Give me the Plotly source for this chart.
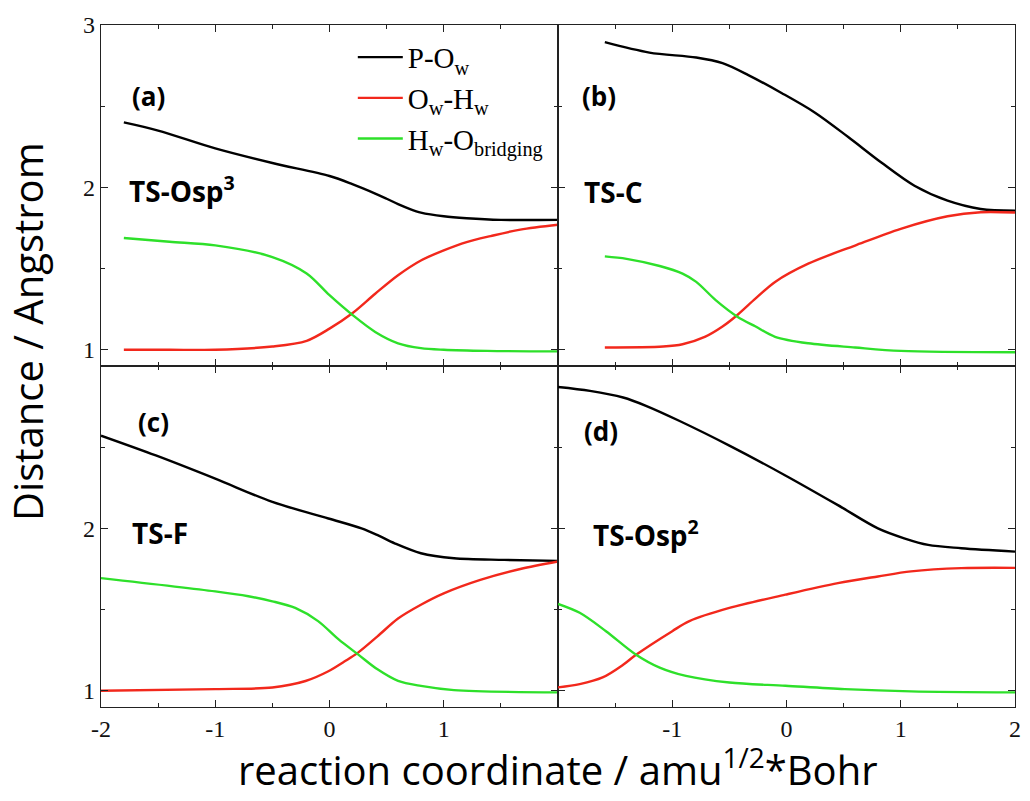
import plotly.graph_objects as go

# ---- data: distances (Angstrom) along the reaction coordinate ----
# panel (a) TS-Osp3
a_po_x = [-1.8, -1.5, -1.0, -0.5, 0.0, 0.2, 0.4, 0.5, 0.6, 0.7, 0.8, 1.0, 1.2, 1.5, 2.0]
a_po_y = [2.40, 2.35, 2.24, 2.15, 2.07, 2.02, 1.962, 1.93, 1.897, 1.868, 1.845, 1.822, 1.81, 1.80, 1.80]
a_oh_x = [-1.8, -1.4, -1.0, -0.5, -0.2, 0.0, 0.2, 0.4, 0.6, 0.8, 1.0, 1.2, 1.41, 1.67, 2.0]
a_oh_y = [1.00, 1.00, 1.00, 1.02, 1.055, 1.13, 1.225, 1.345, 1.459, 1.55, 1.612, 1.663, 1.70, 1.74, 1.77]
a_hb_x = [-1.8, -1.4, -1.0, -0.5, -0.2, 0.0, 0.2, 0.4, 0.6, 0.8, 1.0, 1.38, 2.0]
a_hb_y = [1.688, 1.665, 1.643, 1.571, 1.47, 1.336, 1.215, 1.11, 1.04, 1.01, 1.00, 0.993, 0.99]

# panel (b) TS-C
b_po_x = [-1.59, -1.2, -0.79, -0.56, -0.33, -0.04, 0.25, 0.54, 0.83, 1.12, 1.41, 1.70, 2.0]
b_po_y = [2.894, 2.83, 2.80, 2.765, 2.69, 2.58, 2.46, 2.31, 2.153, 2.01, 1.918, 1.867, 1.857]
b_oh_x = [-1.59, -1.08, -0.91, -0.71, -0.56, -0.43, -0.27, -0.10, 0.19, 0.60, 1.0, 1.41, 1.70, 2.0]
b_oh_y = [1.014, 1.02, 1.034, 1.081, 1.143, 1.214, 1.316, 1.418, 1.53, 1.642, 1.745, 1.822, 1.847, 1.845]
b_hb_x = [-1.59, -1.40, -1.11, -0.91, -0.79, -0.62, -0.43, -0.27, -0.10, 0.19, 0.60, 1.0, 2.0]
b_hb_y = [1.575, 1.56, 1.516, 1.469, 1.418, 1.306, 1.204, 1.143, 1.08, 1.04, 1.014, 0.993, 0.985]

# panel (c) TS-F
c_po_x = [-2.0, -1.52, -1.0, -0.5, -0.01, 0.28, 0.43, 0.57, 0.80, 1.09, 1.53, 2.0]
c_po_y = [2.571, 2.449, 2.306, 2.163, 2.061, 2.0, 1.955, 1.908, 1.847, 1.816, 1.806, 1.80]
c_oh_x = [-2.0, -1.0, -0.5, -0.21, -0.01, 0.13, 0.25, 0.42, 0.60, 0.80, 1.0, 1.32, 1.67, 2.0]
c_oh_y = [1.00, 1.01, 1.02, 1.06, 1.12, 1.18, 1.235, 1.335, 1.445, 1.53, 1.60, 1.683, 1.75, 1.796]
c_hb_x = [-2.0, -1.0, -0.71, -0.5, -0.3, -0.1, 0.08, 0.25, 0.42, 0.60, 0.80, 1.09, 2.0]
c_hb_y = [1.694, 1.612, 1.582, 1.551, 1.51, 1.429, 1.316, 1.224, 1.132, 1.061, 1.03, 1.004, 0.99]

# panel (d) TS-Osp2
d_po_x = [-2.0, -1.72, -1.43, -1.23, -0.94, -0.5, -0.01, 0.45, 0.80, 1.03, 1.24, 1.53, 2.0]
d_po_y = [2.871, 2.847, 2.806, 2.755, 2.663, 2.51, 2.326, 2.143, 2.0, 1.939, 1.898, 1.878, 1.857]
d_oh_x = [-2.0, -1.81, -1.61, -1.43, -1.32, -1.0, -0.85, -0.5, -0.01, 0.45, 0.80, 1.09, 1.53, 2.0]
d_oh_y = [1.021, 1.041, 1.082, 1.16, 1.22, 1.367, 1.429, 1.51, 1.592, 1.663, 1.704, 1.735, 1.755, 1.757]
d_hb_x = [-2.0, -1.81, -1.58, -1.32, -1.11, -0.88, -0.5, -0.01, 0.51, 1.09, 2.0]
d_hb_y = [1.535, 1.48, 1.367, 1.224, 1.143, 1.092, 1.051, 1.031, 1.01, 0.996, 0.99]

series_names = ["P-O<sub>w</sub>", "O<sub>w</sub>-H<sub>w</sub>", "H<sub>w</sub>-O<sub>bridging</sub>"]
series_colors = ["#000000", "#f2281c", "#2ee02a"]
panel_tags = ["(a)", "(b)", "(c)", "(d)"]
panel_names = ["TS-Osp<sup>3</sup>", "TS-C", "TS-F", "TS-Osp<sup>2</sup>"]
x_ticks_left = [-2, -1, 0, 1]
x_ticks_right = [-1, 0, 1, 2]
y_ticks_top = [1, 2, 3]
y_ticks_bottom = [1, 2]

panels = [
    [(a_po_x, a_po_y), (a_oh_x, a_oh_y), (a_hb_x, a_hb_y)],
    [(b_po_x, b_po_y), (b_oh_x, b_oh_y), (b_hb_x, b_hb_y)],
    [(c_po_x, c_po_y), (c_oh_x, c_oh_y), (c_hb_x, c_hb_y)],
    [(d_po_x, d_po_y), (d_oh_x, d_oh_y), (d_hb_x, d_hb_y)],
]

fig = go.Figure()

# axis domains: a=top-left, b=top-right, c=bottom-left, d=bottom-right
xdom = [[0, 0.5], [0.5, 1], [0, 0.5], [0.5, 1]]
ydom = [[0.5, 1], [0.5, 1], [0, 0.5], [0, 0.5]]

for p, curves in enumerate(panels):
    xa = "x" if p == 0 else f"x{p + 1}"
    ya = "y" if p == 0 else f"y{p + 1}"
    for s, (xs, ys) in enumerate(curves):
        fig.add_trace(go.Scatter(
            x=xs, y=ys, mode="lines", xaxis=xa, yaxis=ya,
            line=dict(color=series_colors[s], width=2.4, shape="spline", smoothing=0.9),
            name=series_names[s], legendgroup=f"g{s}", showlegend=(p == 0),
        ))

axis_common = dict(
    showline=True, linecolor="#222", linewidth=1.3, mirror="ticks",
    ticks="inside", ticklen=7, tickwidth=1.3, tickcolor="#222",
    showgrid=False, zeroline=False,
    tickfont=dict(family="Liberation Serif", size=24, color="#111"),
)
layout = {}
for p in range(4):
    xk = "xaxis" if p == 0 else f"xaxis{p + 1}"
    yk = "yaxis" if p == 0 else f"yaxis{p + 1}"
    ya_ref = "y" if p == 0 else f"y{p + 1}"
    xa_ref = "x" if p == 0 else f"x{p + 1}"
    bottom = p >= 2
    left = p % 2 == 0
    xt = x_ticks_left if left else x_ticks_right
    yt = y_ticks_top if p == 0 else y_ticks_bottom
    layout[xk] = dict(
        axis_common, domain=xdom[p], anchor=ya_ref, range=[-2, 2],
        tickvals=xt, ticktext=[str(v) for v in xt], showticklabels=bottom,
        minor=dict(tickvals=[-2, -1.5, -1, -0.5, 0, 0.5, 1, 1.5, 2], ticks="inside",
                   ticklen=4, tickwidth=1.1, tickcolor="#222"),
    )
    layout[yk] = dict(
        axis_common, domain=ydom[p], anchor=xa_ref, range=[0.9, 3.0],
        tickvals=yt, ticktext=[str(v) for v in yt], showticklabels=left,
        minor=dict(tickvals=[1, 1.5, 2, 2.5, 3], ticks="inside",
                   ticklen=4, tickwidth=1.1, tickcolor="#222"),
    )
fig.update_layout(**layout)

# panel tags and transition-state names
tag_pos = [(-1.75, 2.56), (-1.81, 2.56), (-1.69, 2.655), (-1.79, 2.60)]
name_pos = [(-1.77, 1.99), (-1.79, 1.97), (-1.75, 1.97), (-1.71, 1.97)]
annotations = []
for p in range(4):
    xa = "x" if p == 0 else f"x{p + 1}"
    ya = "y" if p == 0 else f"y{p + 1}"
    annotations.append(dict(
        x=tag_pos[p][0], y=tag_pos[p][1], xref=xa, yref=ya, text=f"<b>{panel_tags[p]}</b>",
        showarrow=False, xanchor="left", yanchor="middle",
        font=dict(family="Open Sans", size=26, color="#000"),
    ))
    annotations.append(dict(
        x=name_pos[p][0], y=name_pos[p][1], xref=xa, yref=ya, text=f"<b>{panel_names[p]}</b>",
        showarrow=False, xanchor="left", yanchor="middle",
        font=dict(family="Open Sans", size=28, color="#000"),
    ))

# shared axis titles
annotations.append(dict(
    x=0.5, y=0, xref="paper", yref="paper", yshift=-60, yanchor="middle",
    text="reaction coordinate / amu<sup>1/2</sup>*Bohr", showarrow=False,
    font=dict(family="Open Sans", size=40, color="#000"),
))
annotations.append(dict(
    x=0, y=0.55, xref="paper", yref="paper", xshift=-73, xanchor="center",
    text="Distance / Angstrom", textangle=-90, showarrow=False,
    font=dict(family="Open Sans", size=40, color="#000"),
))

fig.update_layout(
    annotations=annotations,
    width=1030, height=801,
    margin=dict(l=101, r=9, t=25, b=94),
    paper_bgcolor="white", plot_bgcolor="white",
    showlegend=True,
    legend=dict(
        x=0.2755, y=0.99, xanchor="left", yanchor="top",
        bgcolor="rgba(0,0,0,0)", borderwidth=0,
        font=dict(family="Liberation Serif", size=29, color="#000"),
        itemwidth=45, tracegroupgap=0,
    ),
)

fig.write_html("out.html")
